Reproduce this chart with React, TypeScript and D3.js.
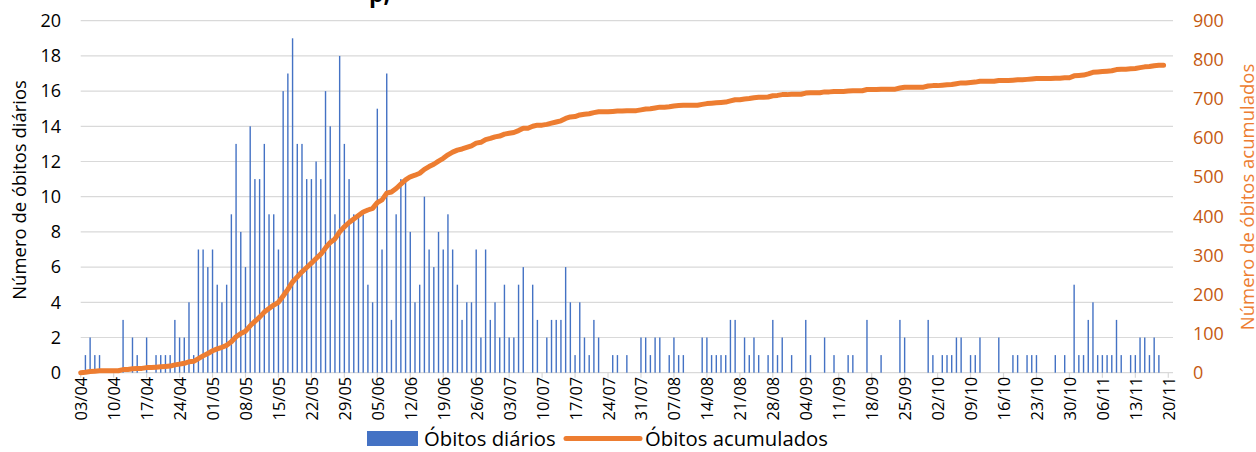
import React from 'react';
import * as d3 from 'd3';

// daily deaths, one value per day starting 03/04/2020
const dailyDeaths = [
  0, 1, 2, 1, 1, 0, 0, 0, 0, 3, 0, 2, 1, 0, 2, 0, 1, 1, 1, 1,
  3, 2, 2, 4, 1, 7, 7, 6, 7, 5, 4, 5, 9, 13, 8, 6, 14, 11, 11, 13,
  9, 9, 7, 16, 17, 19, 13, 13, 11, 11, 12, 11, 16, 14, 9, 18, 13, 11, 9, 9,
  9, 5, 4, 15, 7, 17, 3, 9, 11, 11, 8, 4, 5, 10, 7, 6, 8, 7, 9, 7,
  5, 3, 4, 4, 7, 2, 7, 3, 4, 2, 5, 2, 2, 5, 6, 0, 5, 3, 0, 2,
  3, 3, 3, 6, 4, 1, 4, 2, 1, 3, 2, 0, 0, 1, 1, 0, 1, 0, 0, 2,
  2, 1, 2, 2, 0, 1, 2, 1, 1, 0, 0, 0, 2, 2, 1, 1, 1, 1, 3, 3,
  0, 2, 1, 2, 1, 0, 1, 3, 1, 2, 0, 1, 0, 0, 3, 1, 0, 0, 2, 0,
  1, 0, 0, 1, 1, 0, 0, 3, 0, 0, 1, 0, 0, 0, 3, 2, 0, 0, 0, 0,
  3, 1, 0, 1, 1, 1, 2, 2, 0, 1, 1, 2, 0, 0, 0, 2, 0, 0, 1, 1,
  0, 1, 1, 1, 0, 0, 0, 1, 0, 1, 0, 5, 1, 1, 3, 4, 1, 1, 1, 1,
  3, 1, 0, 1, 1, 2, 2, 1, 2, 1, 0,
];
const cumulativeDeaths = Array.from(d3.cumsum(dailyDeaths));

const leftTicks = [0, 2, 4, 6, 8, 10, 12, 14, 16, 18, 20];
const rightTicks = [0, 100, 200, 300, 400, 500, 600, 700, 800, 900];
const startDate = new Date(Date.UTC(2020, 3, 3));
const endDate = new Date(Date.UTC(2020, 10, 21));

const seriesDaily = 'Óbitos diários';
const seriesCum = 'Óbitos acumulados';
const leftTitle = 'Número de óbitos diários';
const rightTitle = 'Número de óbitos acumulados';

const W = 1256;
const H = 452;
const FONT = '"Open Sans", "Liberation Sans", sans-serif';
const BLUE = '#4472C4';
const ORANGE = '#ED7D31';
const GRID = '#D9D9D9';

export default function App() {
  const dates = dailyDeaths.map((_, i) => d3.utcDay.offset(startDate, i));

  const x = d3.scaleUtc().domain([startDate, endDate]).range([80.7, 1173]);
  const yL = d3.scaleLinear().domain([0, 20]).range([372.7, 20.7]);
  const yR = d3.scaleLinear().domain([0, 900]).range([372.7, 20.7]);

  const weekTicks = d3.utcDay.range(startDate, endDate, 7);
  const fmt = d3.utcFormat('%d/%m');

  const line = d3
    .line<number>()
    .x((_, i) => x(dates[i]))
    .y((d) => yR(d));

  const [x0, x1] = x.range();

  return (
    <svg
      width={W}
      height={H}
      style={{ position: 'absolute', left: 0, top: 0, background: '#fff' }}
      fontFamily={FONT}
    >
      {/* clipped title remnant */}
      <text x={369} y={2} fontSize={23} fontWeight="bold" fill="#000">p,</text>

      {/* gridlines */}
      {leftTicks.map((t) => (
        <line key={t} x1={x0} x2={x1} y1={yL(t)} y2={yL(t)} stroke={GRID} strokeWidth={1.2} />
      ))}
      {weekTicks.map((d) => (
        <line key={+d} x1={x(d)} x2={x(d)} y1={yL(0)} y2={yL(0) + 5} stroke={GRID} strokeWidth={1.2} />
      ))}

      {/* bars */}
      {dailyDeaths.map((v, i) =>
        v > 0 ? (
          <rect
            key={i}
            x={x(dates[i]) - 0.7}
            y={yL(v)}
            width={1.4}
            height={yL(0) - yL(v)}
            fill={BLUE}
          />
        ) : null
      )}

      {/* cumulative line */}
      <path
        d={line(cumulativeDeaths) || ''}
        fill="none"
        stroke={ORANGE}
        strokeWidth={5}
        strokeLinejoin="round"
        strokeLinecap="round"
      />

      {/* left axis */}
      {leftTicks.map((t) => (
        <text key={t} x={61} y={yL(t)} dy="0.35em" textAnchor="end" fontSize={18} fill="#000">
          {t}
        </text>
      ))}
      <text
        transform={`translate(18,190) rotate(-90)`}
        textAnchor="middle"
        dominantBaseline="central"
        fontSize={18.5}
        fill="#000"
      >
        {leftTitle}
      </text>

      {/* right axis */}
      {rightTicks.map((t) => (
        <text key={t} x={1193} y={yR(t)} dy="0.35em" textAnchor="start" fontSize={18} fill="#C55A11">
          {t}
        </text>
      ))}
      <text
        transform={`translate(1246,197) rotate(-90)`}
        textAnchor="middle"
        dominantBaseline="central"
        fontSize={18.5}
        fill={ORANGE}
      >
        {rightTitle}
      </text>

      {/* date labels */}
      {weekTicks.map((d) => (
        <text
          key={+d}
          transform={`translate(${x(d)},${yL(0) + 4}) rotate(-90)`}
          textAnchor="end"
          dominantBaseline="central"
          fontSize={16.5}
          fill="#000"
        >
          {fmt(d)}
        </text>
      ))}

      {/* legend */}
      <rect x={367} y={431} width={51} height={15} fill={BLUE} />
      <text x={424} y={446} fontSize={20.3} fill="#000">{seriesDaily}</text>
      <line x1={566} x2={640} y1={438.5} y2={438.5} stroke={ORANGE} strokeWidth={5} strokeLinecap="round" />
      <text x={645} y={446} fontSize={20.3} fill="#000">{seriesCum}</text>
    </svg>
  );
}
